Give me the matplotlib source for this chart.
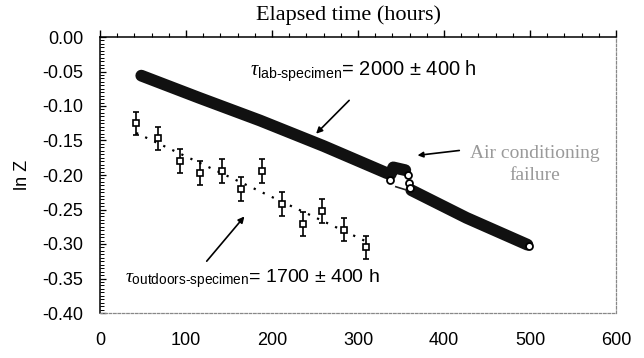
import numpy as np
import matplotlib
matplotlib.use('Agg')
import matplotlib.pyplot as plt
from matplotlib.ticker import MultipleLocator

plt.rcParams['font.family'] = ['Liberation Sans', 'DejaVu Sans']
plt.rcParams['mathtext.fontset'] = 'custom'
plt.rcParams['mathtext.rm'] = 'Liberation Sans'
plt.rcParams['mathtext.it'] = 'Liberation Serif:italic'

# outdoors specimen (open squares with error bars)
outHours = [42, 68, 93, 116, 142, 164, 188, 212, 236, 258, 284, 309]
outLnZ = [-0.125, -0.147, -0.180, -0.197, -0.194, -0.220, -0.194,
          -0.242, -0.271, -0.252, -0.279, -0.305]
outErr = [0.017] * len(outHours)

# fit for the outdoors specimen
fitHours = [42, 309]
fitLnZ = [-0.139, -0.296]

# lab specimen band (before / after the failure)
labHours1 = [48, 115, 186, 260, 333, 338, 341, 355]
labLnZ1 = [-0.056, -0.088, -0.121, -0.158, -0.197, -0.199, -0.189, -0.193]
labHours2 = [362, 426, 497]
labLnZ2 = [-0.222, -0.262, -0.301]

# open circles visible at the band edges
circHours = [337, 358, 359, 361, 499]
circLnZ = [-0.207, -0.200, -0.212, -0.219, -0.303]

# short dash near the failure
dashHours = [344, 357]
dashLnZ = [-0.217, -0.222]

fig = plt.figure(figsize=(6.44, 3.58), dpi=100)
ax = fig.add_axes([100 / 644, 1 - 313 / 358, 516 / 644, 276 / 358])

ax.plot(labHours1, labLnZ1, color='#111111', lw=8.5,
        solid_capstyle='round', solid_joinstyle='round')
ax.plot(labHours2, labLnZ2, color='#111111', lw=8.5,
        solid_capstyle='round', solid_joinstyle='round')
ax.plot(dashHours, dashLnZ, color='#222222', lw=1.2)
ax.plot(circHours, circLnZ, 'o', ms=5, mfc='white', mec='black', mew=1.3)

ax.plot(fitHours, fitLnZ, color='black', lw=1.6, ls=(0, (1, 3.5)))
ax.errorbar(outHours, outLnZ, yerr=outErr, fmt='s', ms=4.5, mfc='white',
            mec='black', mew=1.2, ecolor='black', elinewidth=1.2,
            capsize=2.5, capthick=1.2)

# annotations
ax.text(175, -0.05, r'$\tau_{\mathrm{lab‐specimen}}$= 2000 ± 400 h',
        fontsize=14.5, va='center', ha='left')
ax.annotate('', xy=(249, -0.143), xytext=(292, -0.089),
            arrowprops=dict(arrowstyle='-|>', color='black', lw=1.2,
                            mutation_scale=9))
ax.text(29, -0.35, r'$\tau_{\mathrm{outdoors‐specimen}}$= 1700 ± 400 h',
        fontsize=14, va='center', ha='left')
ax.annotate('', xy=(170, -0.257), xytext=(122, -0.328),
            arrowprops=dict(arrowstyle='-|>', color='black', lw=1.2,
                            mutation_scale=9))
ax.text(506, -0.185, 'Air conditioning\nfailure', fontsize=14,
        family='Liberation Serif', color='#9a9a9a', ha='center',
        va='center', linespacing=1.35)
ax.annotate('', xy=(366, -0.172), xytext=(421, -0.164),
            arrowprops=dict(arrowstyle='-|>', color='black', lw=1.2,
                            mutation_scale=8))

######### axis business ############
ax.set_xlim(0, 600)
ax.set_ylim(-0.40, 0.0)
ax.xaxis.set_major_locator(MultipleLocator(100))
ax.xaxis.set_minor_locator(MultipleLocator(20))
ax.yaxis.set_major_locator(MultipleLocator(0.05))
ax.yaxis.set_minor_locator(MultipleLocator(0.005))
ax.set_yticklabels(['%.2f' % v for v in ax.get_yticks()])

ax.tick_params(axis='x', which='both', bottom=False, top=True,
               labelbottom=True, labeltop=False, direction='out',
               labelsize=13, pad=9)
ax.tick_params(axis='x', which='major', length=5, width=1)
ax.tick_params(axis='x', which='minor', length=3, width=0.8)
ax.tick_params(axis='y', which='both', left=True, right=False,
               direction='in', labelsize=13, pad=12)
ax.tick_params(axis='y', which='major', length=4, width=0.9)
ax.tick_params(axis='y', which='minor', length=3, width=0.7)

ax.spines['left'].set_linewidth(1.1)
ax.spines['top'].set_linewidth(1.1)
for side in ['bottom', 'right']:
    ax.spines[side].set_linestyle((0, (2, 1.5)))
    ax.spines[side].set_color('#888888')
    ax.spines[side].set_linewidth(0.9)

ax.set_ylabel('ln Z', fontsize=13, labelpad=8)
fig.text(349 / 644, 1 - 15 / 358, 'Elapsed time (hours)', fontsize=16,
         family='Liberation Serif', ha='center', va='center')

plt.savefig('out.png', dpi=100)
plt.close('all')
